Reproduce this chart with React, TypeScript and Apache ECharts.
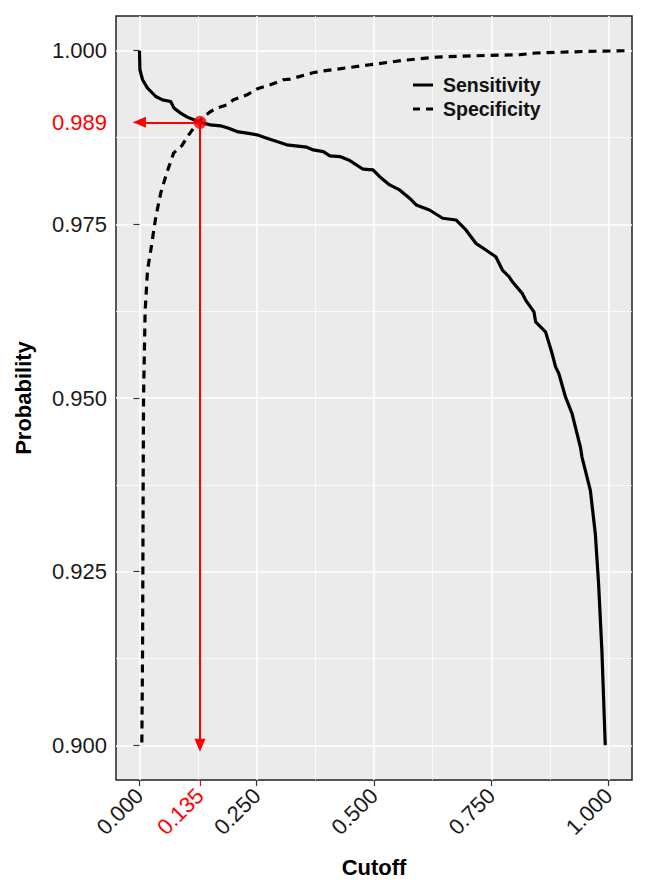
import React, { useEffect, useRef } from "react";
import * as echarts from "echarts";

// ---- data ----
const sensCutoff = [
  0.0, 0.001, 0.0066, 0.0172, 0.0348, 0.049, 0.0666, 0.0736, 0.0878, 0.102, 0.116, 0.13,
  0.1515, 0.1727, 0.19, 0.208, 0.229, 0.2505, 0.2717, 0.293, 0.314, 0.3566, 0.3706, 0.392,
  0.406, 0.4272, 0.4485, 0.4767, 0.4979, 0.5121, 0.5334, 0.5546, 0.5758, 0.59, 0.6182,
  0.6465, 0.6748, 0.696, 0.7172, 0.7385, 0.7597, 0.7737, 0.7879, 0.795, 0.816, 0.8233,
  0.841, 0.8445, 0.8657, 0.8797, 0.887, 0.894, 0.9082, 0.9222, 0.94, 0.9434, 0.9612,
  0.9718, 0.9788, 0.9858, 0.993,
];
const sensValue = [
  1.0, 0.99726, 0.99582, 0.99462, 0.99341, 0.99293, 0.99269, 0.99174, 0.99102, 0.99044,
  0.99005, 0.98966, 0.98933, 0.98919, 0.98885, 0.98836, 0.98813, 0.98789, 0.98741, 0.98692,
  0.98645, 0.98611, 0.98572, 0.98548, 0.98486, 0.98476, 0.98418, 0.98294, 0.98284, 0.98187,
  0.98068, 0.97996, 0.97876, 0.97779, 0.97707, 0.97588, 0.97563, 0.97419, 0.97227, 0.97131,
  0.97034, 0.96842, 0.96746, 0.96673, 0.96506, 0.9641, 0.96241, 0.96097, 0.95952, 0.95641,
  0.95448, 0.95353, 0.95015, 0.94776, 0.94294, 0.9415, 0.9367, 0.93046, 0.92324, 0.91363,
  0.9,
];
const specCutoff = [
  0.0051, 0.0066, 0.0079, 0.0087, 0.0121, 0.0172, 0.0242, 0.0348, 0.0454, 0.0582, 0.073,
  0.09, 0.105, 0.122, 0.1367, 0.1516, 0.1665, 0.187, 0.2004, 0.2295, 0.2514, 0.279, 0.3064,
  0.3214, 0.37, 0.385, 0.491, 0.561, 0.633, 0.739, 0.81, 0.845, 0.951, 1.036,
];
const specValue = [
  0.9004, 0.91363, 0.93742, 0.94997, 0.96251, 0.96842, 0.9713, 0.97606, 0.97952, 0.98241,
  0.98529, 0.9863, 0.98789, 0.98947, 0.99048, 0.99125, 0.99178, 0.99221, 0.99293, 0.99366,
  0.99452, 0.9951, 0.99582, 0.99592, 0.99683, 0.99702, 0.99798, 0.9986, 0.99909, 0.99932,
  0.99942, 0.99967, 0.9999, 1.0,
];
const seriesNames = ["Sensitivity", "Specificity"];
const xMajorTicks = [0, 0.25, 0.5, 0.75, 1.0];
const xMinorTicks = [0.125, 0.375, 0.625, 0.875];
const yMajorTicks = [0.9, 0.925, 0.95, 0.975, 1.0];
const yMinorTicks = [0.9125, 0.9375, 0.9625, 0.9875];
const optimalCutoff = 0.129;
const optimalCutoffLabel = "0.135";
const optimalProb = 0.9897;
const optimalProbLabel = "0.989";
const X_MIN = -0.05;
const X_MAX = 1.05;
const Y_MIN = 0.895;
const Y_MAX = 1.005;

const FONT = "'Liberation Sans', Arial, sans-serif";
const RED = "#FF0000";
const SOLID_KEY = "path://M0,0H20V3H0Z";
const DASHED_KEY = "path://M0,0H7V3H0Z M13,0H20V3H13Z";

export default function App() {
  const ref = useRef<HTMLDivElement>(null);

  useEffect(() => {
    document.body.style.margin = "0";
    if (!ref.current) return;
    const chart = echarts.init(ref.current, undefined, { renderer: "svg" });

    const tickStyle = { color: "#333333", width: 1.2 };
    const baseX = { type: "value" as const, min: X_MIN, max: X_MAX, position: "bottom" as const, axisLine: { show: false } };
    const baseY = { type: "value" as const, min: Y_MIN, max: Y_MAX, position: "left" as const, axisLine: { show: false } };

    const sensData = sensCutoff.map((x, i) => [x, sensValue[i]]);
    const specData = specCutoff.map((x, i) => [x, specValue[i]]);

    chart.setOption({
      animation: false,
      backgroundColor: "#ffffff",
      grid: {
        left: 116,
        right: 17,
        top: 16,
        bottom: 110,
        show: true,
        backgroundColor: "#EBEBEB",
        borderColor: "#222222",
        borderWidth: 1.5,
      },
      legend: {
        data: [
          { name: seriesNames[0], icon: SOLID_KEY },
          { name: seriesNames[1], icon: DASHED_KEY },
        ],
        orient: "vertical",
        left: 408,
        top: 70,
        itemWidth: 20,
        itemHeight: 3,
        itemGap: 4,
        itemStyle: { color: "#000000" },
        textStyle: {
          fontFamily: FONT,
          fontSize: 19.5,
          fontWeight: "bold",
          color: "#111111",
          lineHeight: 20,
          padding: [0, 0, 0, 5],
        },
      },
      xAxis: [
        {
          ...baseX,
          name: "Cutoff",
          nameLocation: "middle",
          nameGap: 76,
          nameTextStyle: { fontFamily: FONT, fontSize: 22, fontWeight: "bold", color: "#000" },
          axisTick: { show: true, customValues: xMajorTicks, length: 6, lineStyle: tickStyle },
          axisLabel: {
            customValues: xMajorTicks,
            rotate: 45,
            margin: 12,
            formatter: (v: number) => v.toFixed(3),
            fontFamily: FONT,
            fontSize: 22,
            color: "#1a1a1a",
          },
          splitLine: { show: true, lineStyle: { color: "#ffffff", width: 1.6 } },
        },
        {
          ...baseX,
          axisTick: { show: false, customValues: xMinorTicks },
          axisLabel: { show: false },
          splitLine: { show: true, lineStyle: { color: "#ffffff", width: 0.8 } },
        },
        {
          ...baseX,
          axisTick: { show: true, customValues: [optimalCutoff], length: 6, lineStyle: { color: RED, width: 1.2 } },
          axisLabel: {
            customValues: [optimalCutoff],
            rotate: 45,
            margin: 12,
            formatter: () => optimalCutoffLabel,
            fontFamily: FONT,
            fontSize: 22,
            color: RED,
          },
          splitLine: { show: false },
        },
      ],
      yAxis: [
        {
          ...baseY,
          name: "Probability",
          nameLocation: "middle",
          nameGap: 82,
          nameTextStyle: { fontFamily: FONT, fontSize: 22, fontWeight: "bold", color: "#000" },
          axisTick: { show: true, customValues: yMajorTicks, length: 6, lineStyle: tickStyle },
          axisLabel: {
            customValues: yMajorTicks,
            margin: 9,
            formatter: (v: number) => v.toFixed(3),
            fontFamily: FONT,
            fontSize: 22,
            color: "#1a1a1a",
          },
          splitLine: { show: true, lineStyle: { color: "#ffffff", width: 1.6 } },
        },
        {
          ...baseY,
          axisTick: { show: false, customValues: yMinorTicks },
          axisLabel: { show: false },
          splitLine: { show: true, lineStyle: { color: "#ffffff", width: 0.8 } },
        },
        {
          ...baseY,
          axisTick: { show: true, customValues: [optimalProb], length: 6, lineStyle: { color: RED, width: 1.2 } },
          axisLabel: {
            customValues: [optimalProb],
            margin: 9,
            formatter: () => optimalProbLabel,
            fontFamily: FONT,
            fontSize: 22,
            color: RED,
          },
          splitLine: { show: false },
        },
      ],
      series: [
        {
          name: seriesNames[0],
          type: "line",
          xAxisIndex: 0,
          yAxisIndex: 0,
          data: sensData,
          symbol: "none",
          showSymbol: false,
          lineStyle: { color: "#000000", width: 3.2, type: "solid" },
          itemStyle: { color: "#000000" },
          z: 3,
        },
        {
          name: seriesNames[1],
          type: "line",
          xAxisIndex: 0,
          yAxisIndex: 0,
          data: specData,
          symbol: "none",
          showSymbol: false,
          lineStyle: { color: "#000000", width: 3.2, type: [8, 6] },
          itemStyle: { color: "#000000" },
          z: 3,
        },
        {
          name: "optimal",
          type: "scatter",
          xAxisIndex: 0,
          yAxisIndex: 0,
          data: [[optimalCutoff, optimalProb]],
          symbolSize: 13,
          itemStyle: { color: RED },
          z: 6,
          markLine: {
            silent: true,
            symbol: ["none", "triangle"],
            symbolSize: [11, 13],
            label: { show: false },
            lineStyle: { color: RED, width: 2, type: "solid" },
            itemStyle: { color: RED },
            data: [
              [{ coord: [optimalCutoff, optimalProb] }, { coord: [0, optimalProb] }],
              [{ coord: [optimalCutoff, optimalProb] }, { coord: [optimalCutoff, 0.9] }],
            ],
          },
        },
      ],
    });

    return () => chart.dispose();
  }, []);

  return <div ref={ref} style={{ width: 649, height: 890 }} />;
}
